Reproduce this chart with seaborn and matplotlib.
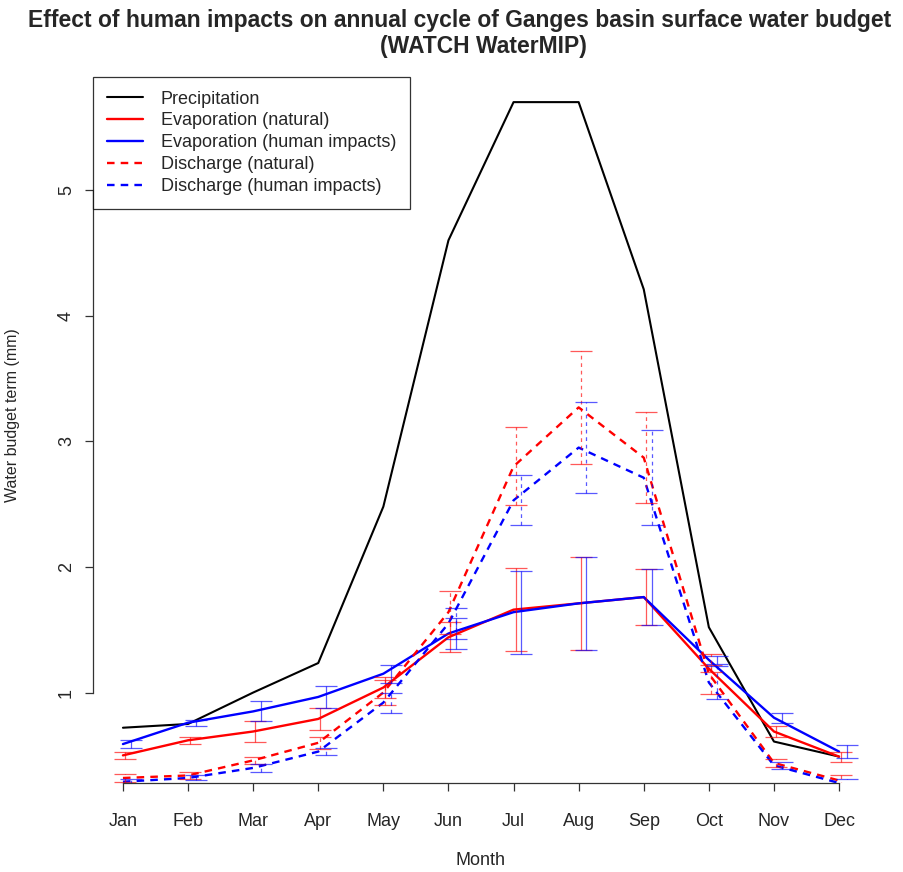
import numpy as np
import pandas as pd
import matplotlib
matplotlib.use("Agg")
import matplotlib.pyplot as plt
import seaborn as sns

months = ["Jan", "Feb", "Mar", "Apr", "May", "Jun", "Jul", "Aug", "Sep", "Oct", "Nov", "Dec"]
precip = [0.72, 0.75, 1.00, 1.235, 2.48, 4.60, 5.70, 5.70, 4.21, 1.52, 0.61, 0.49]
evap_nat = [0.50, 0.62, 0.69, 0.79, 1.04, 1.44, 1.66, 1.71, 1.76, 1.19, 0.69, 0.49]
evap_hum = [0.59, 0.76, 0.85, 0.965, 1.15, 1.47, 1.64, 1.71, 1.76, 1.26, 0.80, 0.53]
evap_nat_err = [0.03, 0.03, 0.085, 0.085, 0.08, 0.12, 0.33, 0.37, 0.22, 0.03, 0.045, 0.04]
evap_hum_err = [0.03, 0.025, 0.08, 0.085, 0.07, 0.12, 0.33, 0.37, 0.22, 0.03, 0.04, 0.05]
dis_nat = [0.32, 0.34, 0.46, 0.60, 1.00, 1.64, 2.80, 3.27, 2.87, 1.15, 0.44, 0.30]
dis_hum = [0.29, 0.32, 0.40, 0.53, 0.92, 1.55, 2.53, 2.95, 2.71, 1.08, 0.42, 0.28]
dis_nat_err = [0.03, 0.03, 0.03, 0.05, 0.10, 0.17, 0.31, 0.45, 0.36, 0.16, 0.03, 0.04]
dis_hum_err = [0.02, 0.02, 0.03, 0.03, 0.08, 0.12, 0.20, 0.36, 0.38, 0.13, 0.03, 0.03]
yticks = [1, 2, 3, 4, 5]

sns.set_style("white")
plt.rcParams["font.family"] = ["Liberation Sans", "DejaVu Sans"]

x = np.arange(1, len(months) + 1)
df = pd.DataFrame({
    "m": x, "precip": precip, "evap_nat": evap_nat, "evap_hum": evap_hum,
    "dis_nat": dis_nat, "dis_hum": dis_hum,
})

fig = plt.figure(figsize=(9.04, 8.72), dpi=100)
ax = fig.add_axes([93 / 904, 1 - 783 / 872, 776 / 904, 706 / 872])

dash = (0, (3.2, 2.6))
sns.lineplot(data=df, x="m", y="precip", ax=ax, color="black", lw=1.5, label="Precipitation")
sns.lineplot(data=df, x="m", y="evap_nat", ax=ax, color="red", lw=1.7, label="Evaporation (natural)")
sns.lineplot(data=df, x="m", y="evap_hum", ax=ax, color="blue", lw=1.7, label="Evaporation (human impacts)")
sns.lineplot(data=df, x="m", y="dis_nat", ax=ax, color="red", lw=1.7, linestyle=dash, label="Discharge (natural)")
sns.lineplot(data=df, x="m", y="dis_hum", ax=ax, color="blue", lw=1.7, linestyle=dash, label="Discharge (human impacts)")

ekw = dict(fmt="none", capsize=8, elinewidth=0.9, capthick=0.9, alpha=0.65)
ax.errorbar(x + 0.03, evap_nat, yerr=evap_nat_err, ecolor="red", **ekw)
ax.errorbar(x + 0.12, evap_hum, yerr=evap_hum_err, ecolor="blue", **ekw)
e1 = ax.errorbar(x + 0.03, dis_nat, yerr=dis_nat_err, ecolor="red", **ekw)
e2 = ax.errorbar(x + 0.12, dis_hum, yerr=dis_hum_err, ecolor="blue", **ekw)
for e in (e1, e2):
    for lc in e[2]:
        lc.set_linestyle((0, (3, 3)))

ax.set_xlim(0.54, 12.46)
ax.set_ylim(0.28, 5.90)
ax.set_xticks(x)
ax.set_xticklabels(months, fontsize=13)
ax.set_yticks(yticks)
ax.set_yticklabels([str(t) for t in yticks], fontsize=13, rotation=90, va="center")
ax.tick_params(axis="both", direction="out", length=5.5, width=0.9, color="#333333",
               left=True, bottom=True)
ax.tick_params(axis="x", pad=16)
ax.tick_params(axis="y", pad=7.5)
for s in ("top", "right"):
    ax.spines[s].set_visible(False)
for s in ("left", "bottom"):
    ax.spines[s].set_color("#333333")
    ax.spines[s].set_linewidth(0.9)
ax.spines["left"].set_bounds(1, 5)
ax.spines["bottom"].set_bounds(1, 12)

ax.set_xlabel("Month", fontsize=13, labelpad=16)
ax.set_ylabel("Water budget term (mm)", fontsize=11.5)
ax.yaxis.set_label_coords((20 - 93) / 776, (783 - 415) / 706)

leg = ax.legend(loc="upper left", borderaxespad=0, frameon=True, fancybox=False,
                edgecolor="black", fontsize=13, handlelength=2.0, handletextpad=1.0,
                labelspacing=0.27, borderpad=0.75)
leg.get_frame().set_linewidth(0.9)

fig.text(460 / 904, 1 - 20 / 872, "Effect of human impacts on annual cycle of Ganges basin surface water budget",
         ha="center", va="center", fontsize=16.5, fontweight="bold")
fig.text(483 / 904, 1 - 46 / 872, "(WATCH WaterMIP)",
         ha="center", va="center", fontsize=16.5, fontweight="bold")

fig.savefig("out.png", dpi=100, facecolor="white")
